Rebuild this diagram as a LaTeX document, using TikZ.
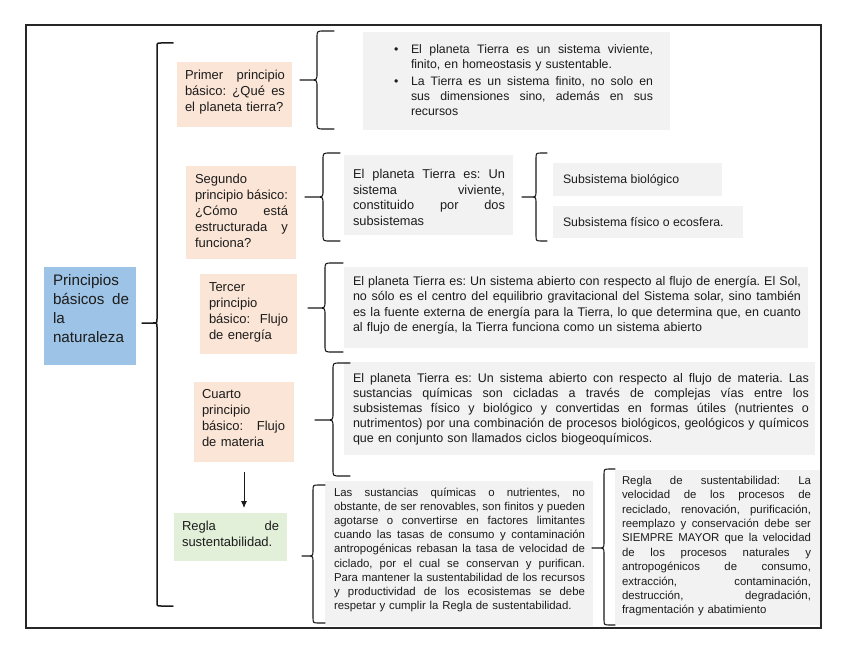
\documentclass[tikz,border=0pt]{standalone}
\usepackage{fontspec}
\setmainfont{Liberation Sans}
\usetikzlibrary{arrows.meta,calc}
\definecolor{bluebox}{HTML}{9DC3E6}
\definecolor{pinkbox}{HTML}{FBE5D6}
\definecolor{greenbox}{HTML}{E2F0D9}
\definecolor{greybox}{HTML}{F2F2F2}
\definecolor{ink}{HTML}{1C1C1C}
\frenchspacing
\newcommand{\fsz}[2]{\fontsize{#1bp}{#2bp}\selectfont\frenchspacing}
\newcommand{\jbox}[2]{\makebox[#1][s]{\spaceskip=0.278em plus 3em minus 0.09em\relax\xspaceskip=\spaceskip #2}}
\newcommand{\jl}[1]{\strut\jbox{\hsize}{#1}\\}
% tipx, linex, endx, top, mid, bottom, radius
\newcommand{\bracedraw}[8][]{%
  \draw[bracestyle,#1] (#4,#5) -- ({#3+#8},#5) .. controls (#3,#5) .. (#3,{#5+#8})
    -- (#3,{#6-#8}) .. controls (#3,#6) .. ({#3-#8},#6) -- (#2,#6)
    ({#3-#8},#6) .. controls (#3,#6) .. (#3,{#6+#8})
    -- (#3,{#7-#8}) .. controls (#3,#7) .. ({#3+#8},#7) -- (#4,#7);}
\begin{document}
\begin{tikzpicture}[x=1bp,y=-1bp,
  boxnode/.style={anchor=north west,inner sep=0pt,outer sep=0pt},
  txt/.style={anchor=north west,inner sep=0pt,outer sep=0pt,text=ink},
  bracestyle/.style={line width=1.1bp,line cap=round,line join=round,draw=black!90},
  arrowstyle/.style={-{Latex[length=7bp,width=6bp]},line width=0.9bp,draw=black!90}]
\useasboundingbox (0,0) rectangle (848,655);

% outer frame
\node[boxnode,draw=black!85,line width=1.4bp,minimum width=795bp,minimum height=603bp] (frame) at (26,25) {};

% coloured boxes
\node[boxnode,fill=bluebox,minimum width=92bp,minimum height=98bp] (blue) at (44,267) {};
\node[boxnode,fill=pinkbox,minimum width=115bp,minimum height=65bp] (pink1) at (177,62) {};
\node[boxnode,fill=pinkbox,minimum width=110bp,minimum height=93bp] (pink2) at (186,166) {};
\node[boxnode,fill=pinkbox,minimum width=97bp,minimum height=80bp] (pink3) at (200,274) {};
\node[boxnode,fill=pinkbox,minimum width=100bp,minimum height=80bp] (pink4) at (194,382) {};
\node[boxnode,fill=greenbox,minimum width=113bp,minimum height=48bp] (green) at (174,513) {};
\node[boxnode,fill=greybox,minimum width=307bp,minimum height=98bp] (g1) at (363,32) {};
\node[boxnode,fill=greybox,minimum width=169bp,minimum height=80bp] (g2) at (344,155) {};
\node[boxnode,fill=greybox,minimum width=169bp,minimum height=33bp] (g3a) at (553,163) {};
\node[boxnode,fill=greybox,minimum width=190bp,minimum height=32bp] (g3b) at (553,206) {};
\node[boxnode,fill=greybox,minimum width=464bp,minimum height=81bp] (g4) at (344,267) {};
\node[boxnode,fill=greybox,minimum width=471bp,minimum height=93bp] (g5) at (344,362) {};
\node[boxnode,fill=greybox,minimum width=268bp,minimum height=145bp] (g6) at (325,481) {};
\node[boxnode,fill=greybox,minimum width=205bp,minimum height=155bp] (g7) at (615,470) {};

% texts
\node[txt,font=\fsz{15.2}{18.7},text width=76bp] (bluet) at (53,272.9) {%
\strut Principios\\
\jl{básicos de}
\strut la\\
\strut naturaleza};

\node[txt,font=\fsz{13}{16},text width=100bp] (pink1t) at (185,68.1) {%
\jl{Primer principio}
\jl{básico: ¿Qué es}
\strut el planeta tierra?};

\node[txt,font=\fsz{13}{16},text width=93bp] (pink2t) at (195,172.1) {%
\strut Segundo\\
\jl{principio básico:}
\jl{¿Cómo está}
\jl{estructurada y}
\strut funciona?};

\node[txt,font=\fsz{13}{16},text width=79bp] (pink3t) at (209,280.5) {%
\strut Tercer\\
\strut principio\\
\jl{básico: Flujo}
\strut de energía};

\node[txt,font=\fsz{13}{16},text width=83bp] (pink4t) at (202,387.1) {%
\strut Cuarto\\
\strut principio\\
\jl{básico: Flujo}
\strut de materia};

\node[txt,font=\fsz{13}{16},text width=97bp] (greent) at (182,518.8) {%
\jl{Regla de}
\strut sustentabilidad.};

\node[txt,font=\fsz{12.3}{15},text width=259bp] (g1t) at (394,42.8) {%
\strut\makebox[17bp][l]{\textbullet}\jbox{242bp}{El planeta Tierra es un sistema viviente,}\\
\strut\hspace*{17bp}finito, en homeostasis y sustentable.\\[2bp]
\strut\makebox[17bp][l]{\textbullet}\jbox{242bp}{La Tierra es un sistema finito, no solo en}\\
\strut\hspace*{17bp}\jbox{242bp}{sus dimensiones sino, además en sus}\\
\strut\hspace*{17bp}recursos};

\node[txt,font=\fsz{12.8}{15.8},text width=152bp] (g2t) at (353,167.2) {%
\jl{El planeta Tierra es: Un}
\jl{sistema viviente,}
\jl{constituido por dos}
\strut subsistemas};

\node[txt,font=\fsz{12.3}{15}] (g3at) at (563,172.8) {\strut Subsistema biológico};
\node[txt,font=\fsz{12.3}{15}] (g3bt) at (563,216.2) {\strut Subsistema físico o ecosfera.};

\node[txt,font=\fsz{12.5}{15.2},text width=448bp] (g4t) at (353,275.1) {%
\jl{El planeta Tierra es: Un sistema abierto con respecto al flujo de energía. El Sol,}
\jl{no sólo es el centro del equilibrio gravitacional del Sistema solar, sino también}
\jl{es la fuente externa de energía para la Tierra, lo que determina que, en cuanto}
\strut al flujo de energía, la Tierra funciona como un sistema abierto};

\node[txt,font=\fsz{12.5}{15},text width=456bp] (g5t) at (353,371.8) {%
\jl{El planeta Tierra es: Un sistema abierto con respecto al flujo de materia. Las}
\jl{sustancias químicas son cicladas a través de complejas vías entre los}
\jl{subsistemas físico y biológico y convertidas en formas útiles (nutrientes o}
\jl{nutrimentos) por una combinación de procesos biológicos, geológicos y químicos}
\strut que en conjunto son llamados ciclos biogeoquímicos.};

\node[txt,font=\fsz{11.4}{14.2},text width=251bp] (g6t) at (334,486.1) {%
\jl{Las sustancias químicas o nutrientes, no}
\jl{obstante, de ser renovables, son finitos y pueden}
\jl{agotarse o convertirse en factores limitantes}
\jl{cuando las tasas de consumo y contaminación}
\jl{antropogénicas rebasan la tasa de velocidad de}
\jl{ciclado, por el cual se conservan y purifican.}
\jl{Para mantener la sustentabilidad de los recursos}
\jl{y productividad de los ecosistemas se debe}
\strut respetar y cumplir la Regla de sustentabilidad.};

\node[txt,font=\fsz{11.4}{14.4},text width=189bp] (g7t) at (622,474.2) {%
\jl{Regla de sustentabilidad: La}
\jl{velocidad de los procesos de}
\jl{reciclado, renovación, purificación,}
\jl{reemplazo y conservación debe ser}
\jl{SIEMPRE MAYOR que la velocidad}
\jl{de los procesos naturales y}
\jl{antropogénicos de consumo,}
\jl{extracción, contaminación,}
\jl{destrucción, degradación,}
\strut fragmentación y abatimiento};

% braces
\bracedraw[line width=1.5bp]{142}{157}{173}{43}{323}{606}{4}
\bracedraw{300}{317}{334}{31}{80}{129}{7}
\bracedraw{305}{323}{340}{153}{197}{241}{7}
\bracedraw{522}{536}{547}{153}{197}{241}{6}
\bracedraw{308}{325}{343}{263}{308}{352}{7}
\bracedraw{315}{333}{350}{363}{420}{476}{7}
\bracedraw{302}{313}{325}{485}{556}{623}{6}
\bracedraw{592}{604}{615}{469}{548}{625}{6}

% arrow from fourth principle to the rule
\coordinate (arrowstart) at ($(pink4.south)+(0,10)$);
\coordinate (arrowend) at ($(pink4.south |- green.north)+(0,-5)$);
\draw[arrowstyle] (arrowstart) -- (arrowend);
\end{tikzpicture}
\end{document}
